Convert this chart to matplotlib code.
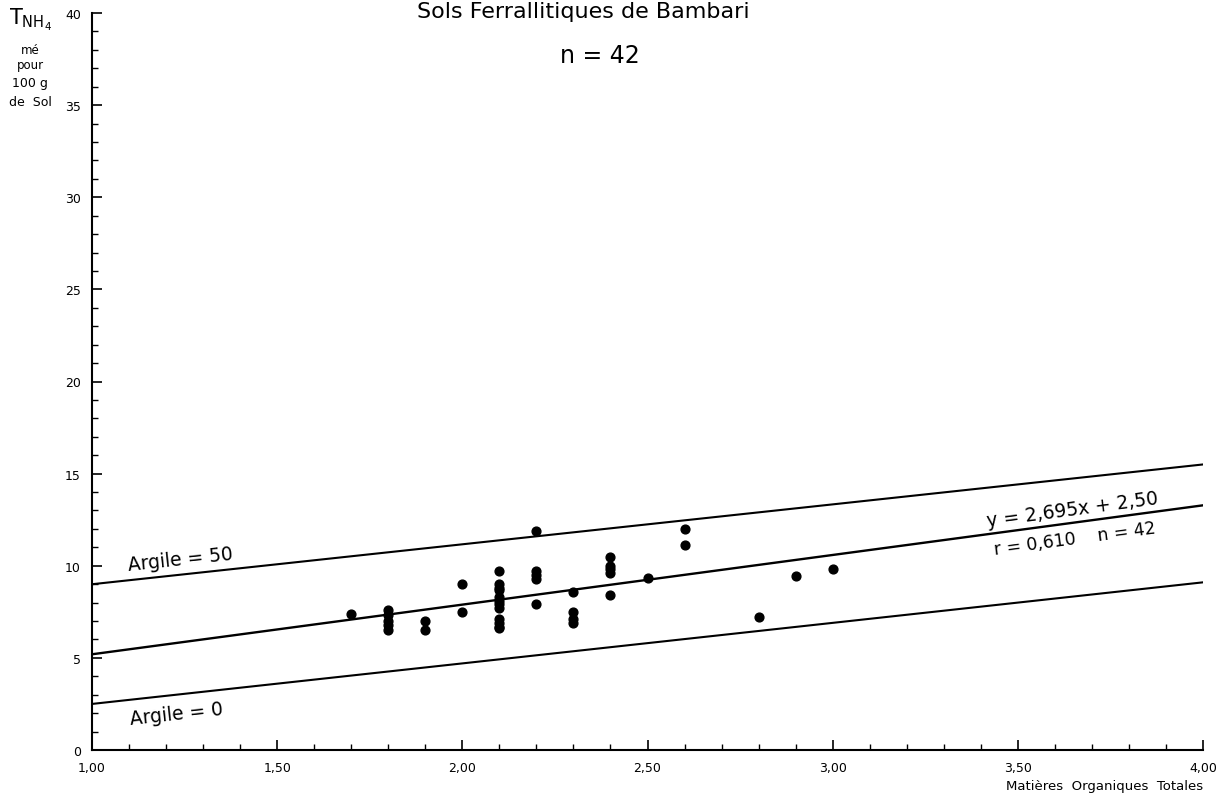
import matplotlib
matplotlib.use("Agg")
import matplotlib.pyplot as plt
from matplotlib.ticker import MultipleLocator, FuncFormatter
import numpy as np

# matieres organiques totales (%) et T NH4 (me / 100 g)
mo = [1.7,
      1.8, 1.8, 1.8, 1.8, 1.8,
      1.9, 1.9,
      2.0, 2.0,
      2.1, 2.1, 2.1, 2.1, 2.1, 2.1, 2.1, 2.1, 2.1, 2.1, 2.1, 2.1,
      2.2, 2.2, 2.2, 2.2, 2.2,
      2.3, 2.3, 2.3, 2.3,
      2.4, 2.4, 2.4, 2.4, 2.4,
      2.5,
      2.6, 2.6,
      2.8, 2.9, 3.0]
tnh4 = [7.4,
        7.6, 7.3, 7.0, 6.8, 6.5,
        7.0, 6.5,
        9.0, 7.5,
        9.7, 9.0, 8.8, 8.7, 8.3, 8.1, 7.9, 7.7, 7.1, 6.9, 6.7, 6.6,
        11.9, 9.7, 9.5, 9.3, 7.9,
        8.6, 7.5, 7.1, 6.9,
        10.5, 10.0, 9.8, 9.6, 8.4,
        9.35,
        12.0, 11.1,
        7.2, 9.45, 9.8]

# droite de regression
pente = 2.695
ordonnee = 2.50
r_coef = "0,610"
n = 42

# droites Argile = 0 et Argile = 50
argile_labels = ["Argile = 0", "Argile = 50"]
argile_pente = [2.2, 2.167]
argile_ordonnee = [0.3, 6.83]

xticks = [1.0, 1.5, 2.0, 2.5, 3.0, 3.5, 4.0]
yticks = [0, 5, 10, 15, 20, 25, 30, 35, 40]

fig = plt.figure(figsize=(12.21, 8.03), dpi=100)
ax = fig.add_axes([92 / 1221, 1 - 751 / 803, (1203 - 92) / 1221, (751 - 14) / 803])

ax.set_xlim(1.0, 4.0)
ax.set_ylim(0, 40)

xx = np.array([1.0, 4.0])
ax.plot(xx, pente * xx + ordonnee, color="black", lw=1.7)
for p, o in zip(argile_pente, argile_ordonnee):
    ax.plot(xx, p * xx + o, color="black", lw=1.5)

ax.scatter(mo, tnh4, s=40, color="black", zorder=3)

# angle des textes le long des droites (en pixels)
def angle(p):
    sx = (1203 - 92) / 3.0
    sy = (751 - 14) / 40.0
    return np.degrees(np.arctan(p * sy / sx))

ax.text(1.1, argile_pente[1] * 1.1 + argile_ordonnee[1] + 0.35, argile_labels[1],
        fontsize=13.5, rotation=angle(argile_pente[1]), rotation_mode="anchor",
        ha="left", va="bottom")
ax.text(1.1, argile_pente[0] * 1.1 + argile_ordonnee[0] - 0.5, argile_labels[0],
        fontsize=13.5, rotation=angle(argile_pente[0]), rotation_mode="anchor",
        ha="left", va="top")

xe = 3.65
ax.text(xe, pente * xe + ordonnee + 0.25,
        "y = " + f"{pente:.3f}".replace(".", ",") + "x + " + f"{ordonnee:.2f}".replace(".", ","),
        fontsize=13.5, rotation=angle(pente), rotation_mode="anchor",
        ha="center", va="bottom")
ax.text(xe, pente * xe + ordonnee - 0.35, f"r = {r_coef}    n = {n}",
        fontsize=12.5, rotation=angle(pente), rotation_mode="anchor",
        ha="center", va="top")

# axes
for s in ["top", "right"]:
    ax.spines[s].set_visible(False)
ax.spines["left"].set_linewidth(1.5)
ax.spines["bottom"].set_linewidth(1.5)
ax.set_xticks(xticks)
ax.set_yticks(yticks)
ax.xaxis.set_minor_locator(MultipleLocator(0.1))
ax.yaxis.set_minor_locator(MultipleLocator(1))
ax.xaxis.set_major_formatter(FuncFormatter(lambda v, _: f"{v:.2f}".replace(".", ",")))
ax.tick_params(axis="both", which="major", direction="in", length=7, width=1.2,
               labelsize=9)
ax.tick_params(axis="both", which="minor", direction="in", length=4, width=1)
ax.tick_params(axis="x", pad=8)
ax.tick_params(axis="y", pad=8)

fig.text(1203 / 1221, 1 - 787 / 803, "Matières  Organiques  Totales",
         fontsize=9.5, ha="right", va="center")

# unite de l'axe y
fig.text(30 / 1221, 1 - 20 / 803, r"T$_{\mathregular{NH_4}}$", fontsize=15,
         ha="center", va="center")
fig.text(30 / 1221, 1 - 50 / 803, "mé", fontsize=8.5, ha="center", va="center")
fig.text(30 / 1221, 1 - 66 / 803, "pour", fontsize=8.5, ha="center", va="center")
fig.text(30 / 1221, 1 - 84 / 803, "100 g", fontsize=9, ha="center", va="center")
fig.text(30 / 1221, 1 - 102 / 803, "de  Sol", fontsize=9, ha="center", va="center")

fig.text(583 / 1221, 1 - 2 / 803, "Sols Ferrallitiques de Bambari", fontsize=16,
         ha="center", va="top")
fig.text(600 / 1221, 1 - 56 / 803, f"n = {n}", fontsize=17, ha="center", va="center")

fig.savefig("out.png", dpi=100)
